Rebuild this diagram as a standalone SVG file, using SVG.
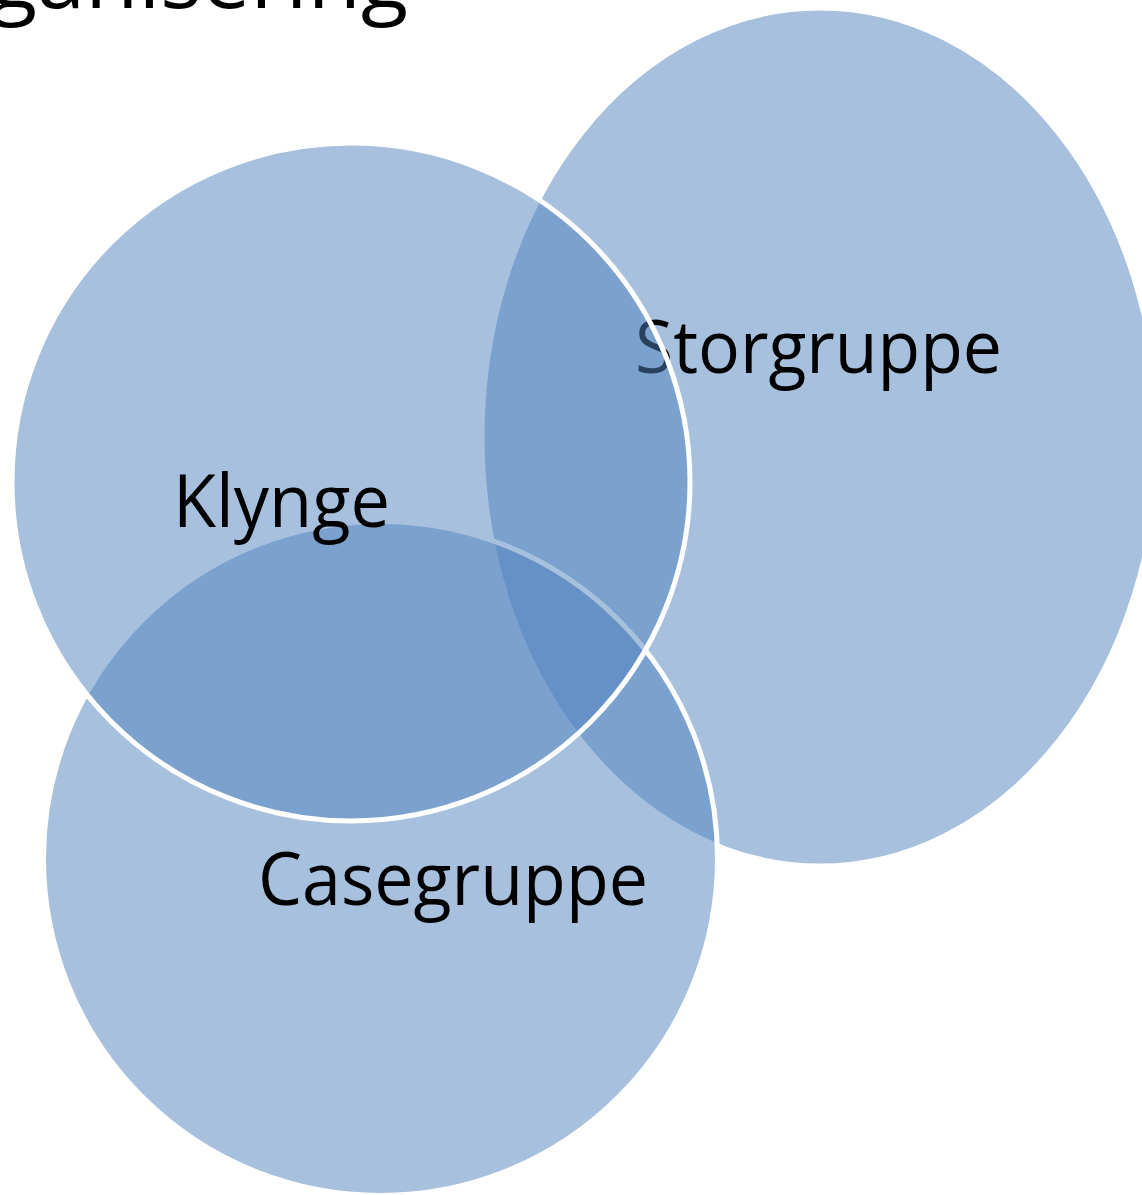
<svg xmlns="http://www.w3.org/2000/svg" width="1142" height="1195" viewBox="0 0 1142 1195">
  <style>
    .shape { fill: #4F81BD; fill-opacity: 0.5; stroke: #FFFFFF; stroke-width: 5; }
    .lbl { font-family: "Open Sans", "Noto Sans", sans-serif; font-size: 74px; fill: #000000; }
    .title { font-family: "Open Sans", "Noto Sans", sans-serif; font-size: 84px; fill: #000000; }
  </style>
  <rect x="0" y="0" width="1142" height="1195" fill="#FFFFFF"/>
  <text class="title" x="-10" y="8" textLength="418" lengthAdjust="spacingAndGlyphs">ganisering</text>
  <g id="storgruppe">
    <ellipse class="shape" cx="820" cy="437" rx="338" ry="429"/>
    <text class="lbl" x="635" y="373" textLength="367" lengthAdjust="spacingAndGlyphs">Storgruppe</text>
  </g>
  <g id="casegruppe">
    <circle class="shape" cx="380.5" cy="858.5" r="337"/>
    <text class="lbl" x="258" y="905" textLength="390" lengthAdjust="spacingAndGlyphs">Casegruppe</text>
  </g>
  <g id="klynge">
    <circle class="shape" cx="351" cy="482" r="339"/>
    <text class="lbl" x="173" y="527" textLength="217" lengthAdjust="spacingAndGlyphs">Klynge</text>
  </g>
  <g id="connectors"/>
</svg>
